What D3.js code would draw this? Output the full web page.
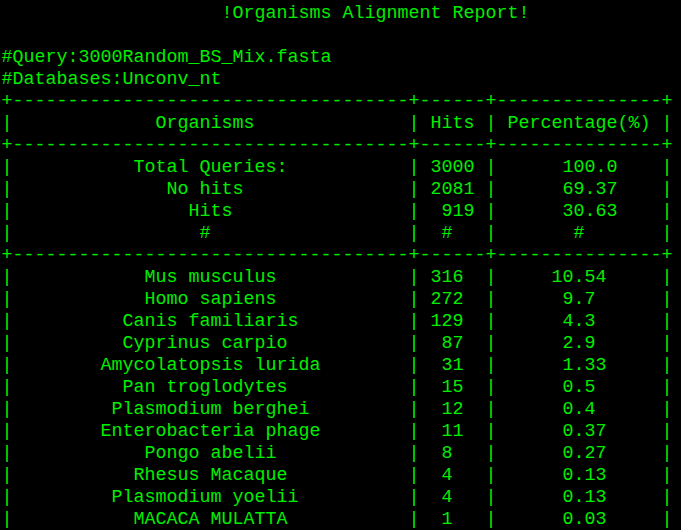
<!DOCTYPE html>
<html>
<head>
<meta charset="utf-8">
<script src="https://d3js.org/d3.v7.min.js"></script>
<style>
  body { margin: 0; background: #000; }
  svg { display: block; }
</style>
</head>
<body>
<div class="report"></div>
<script>
// report header
var title = "!Organisms Alignment Report!";
var queryFile = "3000Random_BS_Mix.fasta";
var databases = "Unconv_nt";

// column headers
var headers = ["Organisms", "Hits", "Percentage(%)"];

// summary block
var summaryNames = ["Total Queries:", "No hits", "Hits", "#"];
var summaryHits = ["3000", "2081", "919", "#"];
var summaryPct = ["100.0", "69.37", "30.63", "#"];

// organisms block
var organisms = ["Mus musculus", "Homo sapiens", "Canis familiaris", "Cyprinus carpio",
  "Amycolatopsis lurida", "Pan troglodytes", "Plasmodium berghei", "Enterobacteria phage",
  "Pongo abelii", "Rhesus Macaque", "Plasmodium yoelii", "MACACA MULATTA"];
var hits = [316, 272, 129, 87, 31, 15, 12, 11, 8, 4, 4, 1];
var percents = ["10.54", "9.7", "4.3", "2.9", "1.33", "0.5", "0.4", "0.37", "0.27", "0.13", "0.13", "0.03"];

var width = 681, height = 530;
var colW = [36, 6, 15];

// python style str.center
function center(s, w) {
  s = String(s);
  var pad = w - s.length;
  if (pad <= 0) return s;
  var left = Math.floor(pad / 2) + (pad & w & 1);
  return " ".repeat(left) + s + " ".repeat(pad - left);
}
function row(cells) {
  return "|" + cells.map(function(c, i){ return center(c, colW[i]); }).join("|") + "|";
}
var sep = "+" + colW.map(function(w){ return "-".repeat(w); }).join("+") + "+";

var lines = [];
lines.push(center(title, 68));
lines.push("");
lines.push("#Query:" + queryFile);
lines.push("#Databases:" + databases);
lines.push(sep);
lines.push(row(headers));
lines.push(sep);
summaryNames.forEach(function(n, i){
  var h = summaryHits[i] === "#" ? "#" : " " + summaryHits[i];
  var p = summaryPct[i] === "#" ? "#" : " " + summaryPct[i];
  lines.push(row([n, h, p]));
});
lines.push(sep);
organisms.forEach(function(n, i){
  lines.push(row([n, hits[i], percents[i]]));
});

var y = d3.scaleLinear().domain([0, 1]).range([13, 35]);

var svg = d3.select(".report").append("svg")
  .attr("width", width)
  .attr("height", height);

svg.append("rect").attr("width", width).attr("height", height).attr("fill", "#000");

svg.selectAll("text.line")
  .data(lines)
  .enter()
  .append("text")
    .attr("class", "line")
    .attr("x", 1.5)
    .attr("y", function(d, i){ return y(i); })
    .attr("dominant-baseline", "central")
    .attr("xml:space", "preserve")
    .style("white-space", "pre")
    .attr("font-family", "'Liberation Mono', monospace")
    .attr("font-size", 18.333)
    .attr("fill", "#00ee00")
    .text(function(d){ return d; });
</script>
</body>
</html>
